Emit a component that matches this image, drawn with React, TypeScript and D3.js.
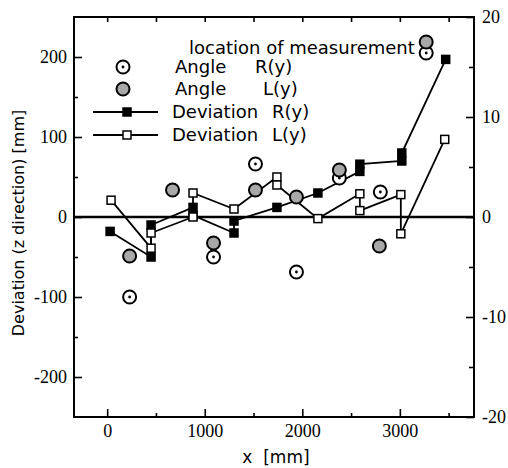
import React, { useRef, useEffect } from "react";
import * as d3 from "d3";

// Deviation R(y), filled squares (mm, left axis)
const devRX = [30, 450, 450, 880, 880, 1300, 1300, 1740, 2160, 2590, 2590, 3020, 3020, 3470];
const devRY = [-18, -50, -10, 12, 2, -20, -5, 12, 30, 57, 66, 70, 80, 197];
// Deviation L(y), open squares (mm, left axis)
const devLX = [40, 450, 450, 880, 880, 1300, 1740, 1740, 2160, 2590, 2590, 3010, 3010, 3460];
const devLY = [21, -39, -20, 0, 30, 10, 50, 40, -2, 29, 8, 28, -21, 97];
// Angle R(y), open circles (right axis)
const angRX = [230, 1090, 1520, 1940, 2380, 2800, 3270];
const angRY = [-8.0, -4.0, 5.3, -5.5, 3.9, 2.5, 16.4];
// Angle L(y), shaded circles (right axis)
const angLX = [230, 670, 1090, 1520, 1940, 2380, 2790, 3270];
const angLY = [-3.9, 2.7, -2.6, 2.7, 2.0, 4.7, -2.9, 17.5];

const xMajor = [0, 1000, 2000, 3000];
const xMinor = [500, 1500, 2500, 3500];
const yMajor = [-200, -100, 0, 100, 200];
const yMinor = [-150, -50, 50, 150];
const y2Major = [-20, -10, 0, 10, 20];
const y2Minor = [-15, -5, 5, 15];

const SERIF = "'Liberation Serif', 'DejaVu Serif', serif";
const SANS = "'DejaVu Sans', sans-serif";

const App = () => {
  const ref = useRef<SVGSVGElement>(null);

  useEffect(() => {
    const svg = d3.select(ref.current);
    svg.selectAll("*").remove();

    const L = 74, R = 474, T = 17, B = 417;
    const x = d3.scaleLinear().domain([-340, 3760]).range([L, R]);
    const y = d3.scaleLinear().domain([-250, 250]).range([B, T]);
    const y2 = d3.scaleLinear().domain([-20, 20]).range([B, T]);
    const fmt = (d) => String(d);

    const styleAxis = (g, labels) => {
      g.select(".domain").remove();
      g.selectAll("line").attr("stroke", "#000").attr("stroke-width", 1.6);
      g.selectAll("text")
        .attr("fill", "#000")
        .style("font-family", SERIF)
        .style("font-size", "18px");
      if (!labels) g.selectAll("text").remove();
    };

    // ticks (inward)
    svg.append("g").attr("transform", `translate(${L},0)`)
      .call(d3.axisLeft(y).tickValues(yMajor).tickFormat(fmt).tickSize(-8).tickPadding(7))
      .call((g) => styleAxis(g, true));
    svg.append("g").attr("transform", `translate(${L},0)`)
      .call(d3.axisLeft(y).tickValues(yMinor).tickSize(-4))
      .call((g) => styleAxis(g, false));
    svg.append("g").attr("transform", `translate(${R},0)`)
      .call(d3.axisRight(y2).tickValues(y2Major).tickFormat(fmt).tickSize(-8).tickPadding(8))
      .call((g) => styleAxis(g, true));
    svg.append("g").attr("transform", `translate(${R},0)`)
      .call(d3.axisRight(y2).tickValues(y2Minor).tickSize(-5))
      .call((g) => styleAxis(g, false));
    svg.append("g").attr("transform", `translate(0,${B})`)
      .call(d3.axisBottom(x).tickValues(xMajor).tickFormat(fmt).tickSize(-8).tickPadding(7))
      .call((g) => styleAxis(g, true));
    svg.append("g").attr("transform", `translate(0,${B})`)
      .call(d3.axisBottom(x).tickValues(xMinor).tickSize(-4))
      .call((g) => styleAxis(g, false));
    svg.append("g").attr("transform", `translate(0,${T})`)
      .call(d3.axisTop(x).tickValues([...xMajor, ...xMinor]).tickSize(-5))
      .call((g) => styleAxis(g, false));

    // frame
    svg.append("rect")
      .attr("x", L).attr("y", T).attr("width", R - L).attr("height", B - T)
      .attr("fill", "none").attr("stroke", "#000").attr("stroke-width", 2);

    // zero line
    svg.append("line")
      .attr("x1", L).attr("x2", R).attr("y1", y(0)).attr("y2", y(0))
      .attr("stroke", "#000").attr("stroke-width", 2.4);

    // axis titles
    svg.append("text")
      .attr("transform", `translate(24,${(T + B) / 2 + 6}) rotate(-90)`)
      .attr("text-anchor", "middle")
      .style("font-family", SANS).style("font-size", "16px")
      .text("Deviation (z direction) [mm]");
    svg.append("text")
      .attr("x", 276).attr("y", 463)
      .attr("text-anchor", "middle")
      .style("font-family", SANS).style("font-size", "17px")
      .style("white-space", "pre")
      .text("x  [mm]");

    const line = d3.line().x((d) => x(d[0])).y((d) => y(d[1]));
    const rPts = devRX.map((v, i) => [v, devRY[i]]);
    const lPts = devLX.map((v, i) => [v, devLY[i]]);

    svg.append("path").datum(lPts).attr("d", line)
      .attr("fill", "none").attr("stroke", "#000").attr("stroke-width", 1.8);
    svg.append("path").datum(rPts).attr("d", line)
      .attr("fill", "none").attr("stroke", "#000").attr("stroke-width", 1.8);

    const openCircle = (g, cx, cy) => {
      g.append("circle").attr("cx", cx).attr("cy", cy).attr("r", 6.5)
        .attr("fill", "#fff").attr("stroke", "#000").attr("stroke-width", 2);
      g.append("circle").attr("cx", cx).attr("cy", cy).attr("r", 1.4).attr("fill", "#000");
    };
    const shadedCircle = (g, cx, cy) => {
      g.append("circle").attr("cx", cx).attr("cy", cy).attr("r", 6.5)
        .attr("fill", "#a8a8a8").attr("stroke", "#000").attr("stroke-width", 2);
    };
    const square = (g, cx, cy, filled) => {
      g.append("rect").attr("x", cx - 4).attr("y", cy - 4).attr("width", 8).attr("height", 8)
        .attr("fill", filled ? "#000" : "#fff").attr("stroke", "#000").attr("stroke-width", 1.5);
    };

    const marks = svg.append("g");
    angRX.forEach((v, i) => openCircle(marks, x(v), y2(angRY[i])));
    angLX.forEach((v, i) => shadedCircle(marks, x(v), y2(angLY[i])));
    rPts.forEach((d) => square(marks, x(d[0]), y(d[1]), true));
    lPts.forEach((d) => square(marks, x(d[0]), y(d[1]), false));

    // legend
    const lg = svg.append("g").style("font-family", SANS).style("font-size", "18px").attr("fill", "#000");
    lg.append("text").attr("x", 189).attr("y", 54).text("location of measurement");
    openCircle(lg, 123, 67);
    lg.append("text").attr("x", 175).attr("y", 73).text("Angle");
    lg.append("text").attr("x", 255).attr("y", 73).text("R(y)");
    shadedCircle(lg, 123, 89);
    lg.append("text").attr("x", 175).attr("y", 95).text("Angle");
    lg.append("text").attr("x", 263).attr("y", 95).text("L(y)");
    lg.append("line").attr("x1", 93).attr("x2", 158).attr("y1", 112).attr("y2", 112)
      .attr("stroke", "#000").attr("stroke-width", 1.8);
    square(lg, 127, 112, true);
    lg.append("text").attr("x", 172).attr("y", 118).text("Deviation");
    lg.append("text").attr("x", 272).attr("y", 118).text("R(y)");
    lg.append("line").attr("x1", 93).attr("x2", 158).attr("y1", 135).attr("y2", 135)
      .attr("stroke", "#000").attr("stroke-width", 1.8);
    square(lg, 127, 135, false);
    lg.append("text").attr("x", 172).attr("y", 141).text("Deviation");
    lg.append("text").attr("x", 272).attr("y", 141).text("L(y)");
  }, []);

  return (
    <svg
      ref={ref}
      width={508}
      height={468}
      style={{ position: "absolute", left: 0, top: 0, background: "#fff" }}
    />
  );
};

export default App;
